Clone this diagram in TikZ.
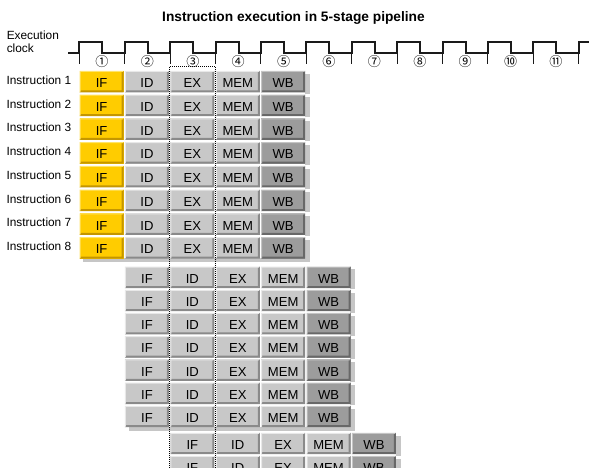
\documentclass[tikz,border=0pt]{standalone}
\usepackage{fontspec}
\setmainfont{Liberation Sans}
\newfontfamily\circfont{Noto Sans CJK SC}
\definecolor{ifmain}{HTML}{FFCC00}
\definecolor{iflight}{HTML}{FFE46A}
\definecolor{ifdark}{HTML}{C49600}
\definecolor{gmain}{HTML}{C8C8C8}
\definecolor{glight}{HTML}{E8E8E8}
\definecolor{gdark}{HTML}{8A8A8A}
\definecolor{wmain}{HTML}{9C9C9C}
\definecolor{wlight}{HTML}{C4C4C4}
\definecolor{wdark}{HTML}{686868}
\definecolor{shadowc}{HTML}{C6C6C6}
\definecolor{clkc}{HTML}{1A1A1A}
\tikzset{
  bevelbox/.style n args={3}{rectangle, fill=#1, minimum width=33pt, minimum height=16.1pt,
    inner sep=0pt, anchor=north west, text height=9pt, text depth=0pt,
    font=\fontsize{9.8}{10}\selectfont,
    path picture={
      \fill[#3] (path picture bounding box.south west) -- (path picture bounding box.south east)
        -- (path picture bounding box.north east) -- ([shift={(-1.5pt,-0.75pt)}]path picture bounding box.north east)
        -- ([shift={(-1.5pt,1.5pt)}]path picture bounding box.south east)
        -- ([shift={(0.75pt,1.5pt)}]path picture bounding box.south west) -- cycle;
      \fill[#2] (path picture bounding box.south west) -- (path picture bounding box.north west)
        -- (path picture bounding box.north east) -- ([shift={(-0.75pt,-0.75pt)}]path picture bounding box.north east)
        -- ([shift={(0.75pt,-0.75pt)}]path picture bounding box.north west)
        -- ([shift={(0.75pt,0.75pt)}]path picture bounding box.south west) -- cycle;
    }},
  stageY/.style={bevelbox={ifmain}{iflight}{ifdark}},
  stageG/.style={bevelbox={gmain}{glight}{gdark}},
  stageW/.style={bevelbox={wmain}{wlight}{wdark}},
  lbl/.style={anchor=east, inner sep=0pt, font=\fontsize{8.9}{10}\selectfont},
  clk/.style={draw=clkc, line width=1.5pt, line join=miter},
  tickline/.style={draw=clkc, line width=0.75pt},
  numlbl/.style={inner sep=0pt, font=\circfont\fontsize{9.8}{10}\selectfont},
  dotline/.style={draw=black, line width=0.75pt, dash pattern=on 0.75pt off 0.75pt},
}
\begin{document}
\begin{tikzpicture}[x=0.75pt,y=-0.75pt]
\fill[white] (0,0) rectangle (594,468);
\useasboundingbox (0,0) rectangle (594,468);
\begin{scope}
\clip (0,0) rectangle (594,468);
% title
\node[font=\bfseries\fontsize{10.3}{12}\selectfont, inner sep=0pt] (title) at (293.5,18) {Instruction execution in 5-stage pipeline};
% clock label
\node[anchor=west, align=left, inner sep=0pt, font=\fontsize{8.9}{9.6}\selectfont] (clklabel) at (6.5,41.5) {Execution\\clock};
% clock waveform
\draw[clk] (68,53.3)
  \foreach \j in {0,...,10} { -- ({79.3+45.4*\j},53.3) -- ({79.3+45.4*\j},42) -- ({102.3+45.4*\j},42) -- ({102.3+45.4*\j},53.3) }
  -- (578.7,53.3) -- (578.7,42) -- (589,42);
\foreach \j in {0,...,11} {
  \draw[tickline] ({79.3+45.4*\j},53.3) -- ({79.3+45.4*\j},64);
}
\foreach \j/\c in {0/①,1/②,2/③,3/④,4/⑤,5/⑥,6/⑦,7/⑧,8/⑨,9/⑩,10/⑪} {
  \node[numlbl] (num\j) at ({102+45.4*\j},61.7) {\c};
}
% instruction labels
\foreach \r in {1,...,8} {
  \node[lbl] (lab\r) at (71.5,{70.7+(\r-1)*23.75+9.5}) {Instruction \r};
}
% stage boxes
\foreach \g/\nr/\tz/\pt in {0/8/70.7/23.75, 1/7/266.3/23.2, 2/2/432.5/23.2} {
  \foreach \r in {1,...,\nr} {
    \pgfmathsetmacro\rowtop{\tz+(\r-1)*\pt}
    \pgfmathsetmacro\xleft{79.3+45.4*\g}
    \pgfmathsetmacro\xright{\xleft+4*45.4+44}
    \fill[shadowc] (\xright,\rowtop+3) rectangle (\xright+5,\rowtop+23);
    \ifnum\r=\nr
      \fill[shadowc] (\xleft+4,\rowtop+21.5) rectangle (\xright+5,\rowtop+25);
    \fi
    \foreach \s [count=\k from 0] in {IF,ID,EX,MEM,WB} {
      \def\sty{stageG}
      \ifnum\k=4 \def\sty{stageW}\fi
      \ifnum\k=0 \ifnum\g=0 \def\sty{stageY}\fi\fi
      \node[\sty] (b\g-\r-\k) at ({\xleft+45.4*\k},\rowtop) {\s};
    }
  }
}
% dotted guide lines
\coordinate (d1) at (169.3,468);
\coordinate (d2) at (169.3,66.7);
\coordinate (d3) at (215.3,66.7);
\coordinate (d4) at (215.3,468);
\draw[dotline] (d1) -- (d2) -- (d3) -- (d4);
\end{scope}
\end{tikzpicture}
\end{document}
